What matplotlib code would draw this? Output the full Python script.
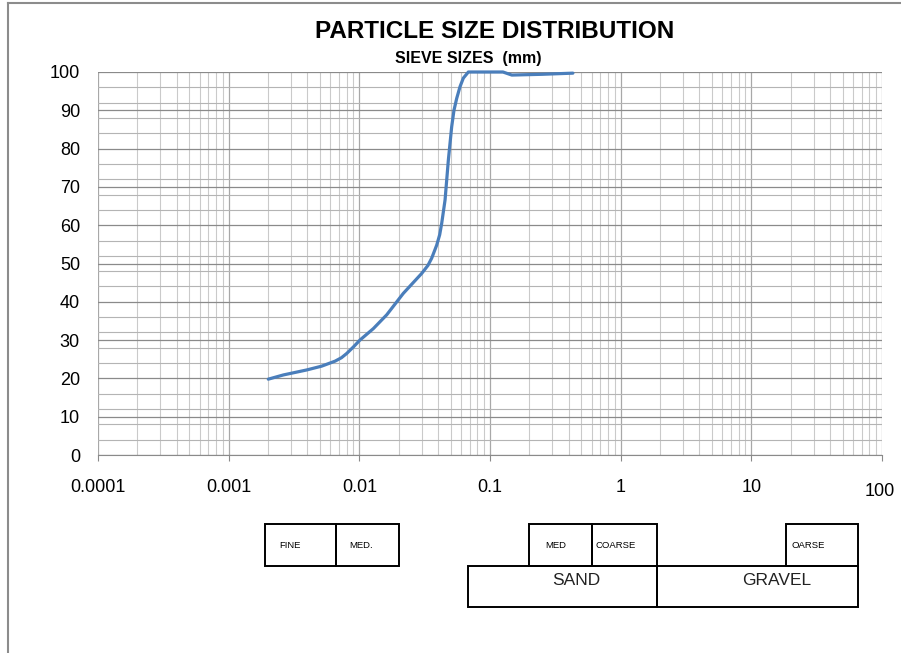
import matplotlib
matplotlib.use("Agg")
import matplotlib.pyplot as plt
import matplotlib.transforms as mtransforms
from matplotlib.patches import Rectangle
from matplotlib.ticker import LogLocator, MultipleLocator, FixedLocator, NullFormatter

plt.rcParams['font.family'] = ['Liberation Sans', 'DejaVu Sans']

# grading curve (sieve size mm, % passing)
sizes = [0.00201, 0.00262, 0.00395, 0.00515, 0.00652, 0.0073, 0.0080, 0.0090, 0.0101,
         0.0128, 0.0162, 0.0217, 0.030, 0.0335, 0.0358, 0.0391, 0.0412, 0.0427,
         0.0453, 0.048, 0.0509, 0.053, 0.0556, 0.059, 0.0625, 0.0683, 0.09, 0.1256,
         0.147, 0.25, 0.431]
passing = [19.8, 20.9, 22.2, 23.2, 24.5, 25.4, 26.5, 28.2, 30.0,
           33.0, 36.6, 42.2, 47.4, 49.5, 51.4, 54.8, 57.5, 60.5,
           66.6, 77.0, 85.7, 90.0, 93.1, 96.2, 98.4, 100.0, 100.0, 100.0,
           99.2, 99.4, 99.7]

x_ticks = [0.0001, 0.001, 0.01, 0.1, 1, 10, 100]
x_labels = ['0.0001', '0.001', '0.01', '0.1', '1', '10', '100']
y_ticks = list(range(0, 101, 10))

# soil classification boxes under the chart (boundaries as drawn, label x)
top_boxes = [(0.0019, 0.0066, 0.00294, 'FINE'), (0.0066, 0.02, 0.0103, 'MED.'),
             (0.2, 0.6, 0.32, 'MED'), (0.6, 1.9, 0.92, 'COARSE'),
             (18.5, 66, 27.1, 'OARSE')]
bottom_boxes = [(0.068, 1.9, 0.46, 'SAND'), (1.9, 66, 15.7, 'GRAVEL')]

fig = plt.figure(figsize=(9.01, 6.53), dpi=100)
ax = fig.add_axes([98 / 901, 1 - 455 / 653, 784 / 901, 383 / 653])

ax.set_xscale('log')
ax.set_xlim(1e-4, 100)
ax.set_ylim(0, 100)

ax.xaxis.set_major_locator(FixedLocator(x_ticks))
ax.set_xticks(x_ticks)
ax.set_xticklabels(x_labels)
ax.xaxis.set_minor_locator(LogLocator(base=10, subs=range(2, 10), numticks=20))
ax.xaxis.set_minor_formatter(NullFormatter())
ax.set_yticks(y_ticks)
ax.yaxis.set_minor_locator(MultipleLocator(4))

ax.grid(which='minor', axis='x', color='#cacaca', lw=0.8)
ax.grid(which='major', axis='x', color='#a8a8a8', lw=0.9)
ax.grid(which='minor', axis='y', color='#b4b4b4', lw=0.8)
ax.grid(which='major', axis='y', color='#8a8a8a', lw=0.9)
ax.set_axisbelow(True)

for s in ['top', 'right', 'left']:
    ax.spines[s].set_visible(False)
ax.spines['bottom'].set_color('#8a8a8a')

ax.tick_params(axis='x', which='major', length=4.5, color='#8a8a8a', pad=13, labelsize=13)
ax.tick_params(axis='x', which='minor', length=0)
ax.tick_params(axis='y', which='both', length=0, pad=13, labelsize=13)

# the "100" label sits a little lower in the reference
last = ax.xaxis.get_major_ticks()[-1].label1
last.set_transform(last.get_transform() +
                   mtransforms.ScaledTranslation(-2 / 100, -4 / 100, fig.dpi_scale_trans))

ax.plot(sizes, passing, color='#4a7ebb', lw=2.3, clip_on=False, zorder=3,
        solid_capstyle='round', solid_joinstyle='round')

fig.text(495 / 901, 1 - 31 / 653, 'PARTICLE SIZE DISTRIBUTION', ha='center', va='center',
         fontsize=17.5, fontweight='bold',
         family=['Liberation Sans Narrow', 'Liberation Sans'])
fig.text(468 / 901, 1 - 58 / 653, 'SIEVE SIZES  (mm)', ha='center', va='center',
         fontsize=11.5, fontweight='bold',
         family=['Liberation Sans Narrow', 'Liberation Sans'])

# boxes below the axis: x in data units, y in figure units
trans = mtransforms.blended_transform_factory(ax.transData, fig.transFigure)
y_top, y_mid, y_bot = 1 - 524 / 653, 1 - 566 / 653, 1 - 607 / 653
for x0, x1, xt, name in top_boxes:
    ax.add_patch(Rectangle((x0, y_mid), x1 - x0, y_top - y_mid, transform=trans,
                           fill=False, ec='black', lw=1.4, clip_on=False))
    ax.text(xt, y_mid + 0.48 * (y_top - y_mid), name, transform=trans,
            ha='center', va='center', fontsize=6.8)
for x0, x1, xt, name in bottom_boxes:
    ax.add_patch(Rectangle((x0, y_bot), x1 - x0, y_mid - y_bot, transform=trans,
                           fill=False, ec='black', lw=1.4, clip_on=False))
    ax.text(xt, y_mid - 0.35 * (y_mid - y_bot), name, transform=trans,
            ha='center', va='center', fontsize=12.5, color='#222222')

# outer chart frame
fig.add_artist(plt.Line2D([8 / 901, 8 / 901], [0, 1 - 3 / 653], transform=fig.transFigure,
                          color='#8c8c8c', lw=1.5))
fig.add_artist(plt.Line2D([8 / 901, 1], [1 - 3 / 653, 1 - 3 / 653], transform=fig.transFigure,
                          color='#8c8c8c', lw=1.5))

fig.savefig('out.png', dpi=100)
